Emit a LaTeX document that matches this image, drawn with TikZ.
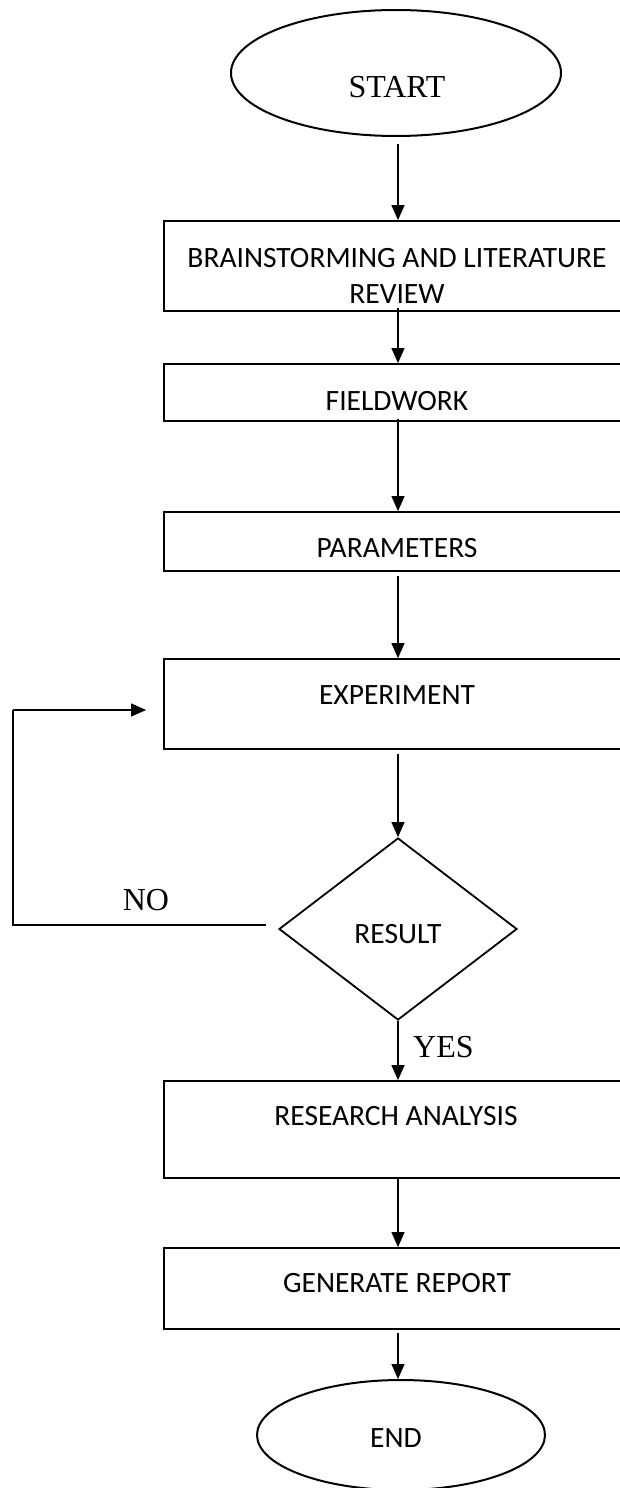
\documentclass[tikz,border=0pt]{standalone}
\usepackage{fontspec}
\usetikzlibrary{shapes.geometric,arrows.meta}
\newfontfamily\calfont{Carlito}
\newfontfamily\timesfont{Liberation Serif}
\begin{document}
\begin{tikzpicture}[x=1pt,y=-1pt,
  stepbox/.style={draw=black,line width=1.8pt,rectangle,minimum width=468pt,inner sep=0pt},
  term/.style={draw=black,line width=2pt,ellipse,inner sep=0pt},
  decide/.style={draw=black,line width=1.8pt,diamond,inner sep=0pt,minimum width=238pt,minimum height=182pt,aspect=1.31},
  lbl/.style={font=\calfont\fontsize{29.5}{35}\selectfont,inner sep=0pt,anchor=base},
  slbl/.style={font=\timesfont\fontsize{32}{38}\selectfont,inner sep=0pt,anchor=base},
  arr/.style={line width=1.2pt,-{Triangle[length=15pt,width=13pt]}},
  plain/.style={line width=1.2pt}]
\useasboundingbox (0,0) rectangle (620,1488);
\clip (0,0) rectangle (620,1488);
\fill[white] (0,0) rectangle (620,1488);
% nodes
\node[term,minimum width=330pt,minimum height=126pt] (start) at (396,73) {};
\node[slbl] (tstart) at (397,97) {START};
\node[stepbox,minimum height=90pt] (brain) at (398,266) {};
\node[lbl] (tbrain1) at (397,267) {BRAINSTORMING AND LITERATURE};
\node[lbl] (tbrain2) at (397,303) {REVIEW};
\node[stepbox,minimum height=57pt] (field) at (398,392.5) {};
\node[lbl] (tfield) at (397,410) {FIELDWORK};
\node[stepbox,minimum height=59pt] (param) at (398,541.5) {};
\node[lbl] (tparam) at (397,557) {PARAMETERS};
\node[stepbox,minimum height=90pt] (exper) at (398,704) {};
\node[lbl] (texper) at (397,704) {EXPERIMENT};
\node[decide] (result) at (398,929) {};
\node[lbl] (tresult) at (398,943) {RESULT};
\node[stepbox,minimum height=97pt] (research) at (398,1129.5) {};
\node[lbl] (tresearch) at (396,1125) {RESEARCH ANALYSIS};
\node[stepbox,minimum height=81pt] (report) at (398,1288.5) {};
\node[lbl] (treport) at (397,1292) {GENERATE REPORT};
\node[term,minimum width=288pt,minimum height=110pt] (finish) at (401,1435) {};
\node[lbl] (tfinish) at (396,1447) {END};
\node[slbl,anchor=base west] (yes) at (413,1057) {YES};
\node[slbl] (no) at (146,910) {NO};
% connectors
\draw[arr] ([yshift=-7pt]start.south -| brain.north) -- (brain.north);
\draw[arr] ([yshift=4pt]brain.south) -- (field.north);
\draw[arr] ([yshift=3pt]field.south) -- (param.north);
\draw[arr] ([yshift=-4pt]param.south) -- (exper.north);
\draw[arr] ([yshift=-4pt]exper.south) -- (result.north);
\draw[arr] (result.south) -- (research.north);
\draw[arr] (research.south) -- (report.north);
\draw[arr] ([yshift=-3pt]report.south) -- (finish.north -| report.south);
\coordinate (nostart) at ([xshift=-12pt,yshift=4pt]result.west);
\coordinate (loopend) at ([xshift=-17pt,yshift=-6pt]exper.west);
\draw[plain] (nostart) -- (13,925) -- (13,710);
\draw[arr] (13,710) -- (loopend);
\end{tikzpicture}
\end{document}
